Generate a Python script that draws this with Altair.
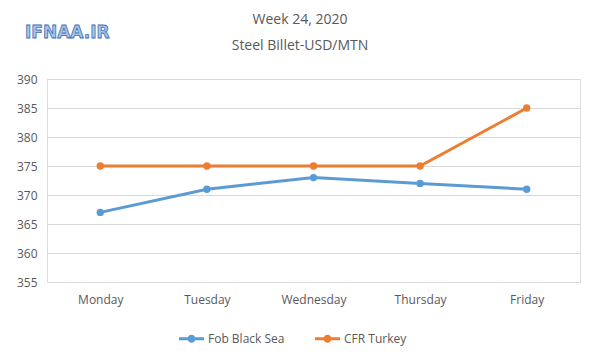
import altair as alt
import pandas as pd

days = ["Monday", "Tuesday", "Wednesday", "Thursday", "Friday"]
fob_black_sea = [367, 371, 373, 372, 371]
cfr_turkey = [375, 375, 375, 375, 385]
series_names = ["Fob Black Sea", "CFR Turkey"]
series_colors = ["#5B9BD5", "#ED7D31"]
y_ticks = [355, 360, 365, 370, 375, 380, 385, 390]
title_lines = ["Week 24, 2020", "Steel Billet-USD/MTN"]
logo_text = ["IFNAA.IR"]

rows = []
for name, vals in zip(series_names, [fob_black_sea, cfr_turkey]):
    for d, v in zip(days, vals):
        rows.append({"day": d, "value": v, "series": name})
df = pd.DataFrame(rows)

FONT = "Open Sans"
GRAY = "#595959"

x = alt.X("day:N", sort=days, title=None,
          scale=alt.Scale(type="point", padding=0.5),
          axis=alt.Axis(labelAngle=0, domain=False, ticks=False, grid=False,
                        labelPadding=12, labelColor=GRAY, labelFont=FONT, labelFontSize=12))
y = alt.Y("value:Q", title=None,
          scale=alt.Scale(domain=[355, 390], nice=False, zero=False),
          axis=alt.Axis(values=y_ticks, domain=False, ticks=False, gridColor="#D9D9D9",
                        labelPadding=10, labelColor=GRAY, labelFont=FONT, labelFontSize=12))
cscale = alt.Scale(domain=series_names, range=series_colors)
legend_symbol = ("M-1,-0.12L1,-0.12L1,0.12L-1,0.12Z "
                 "M-0.32,0A0.32,0.32 0 1,1 0.32,0A0.32,0.32 0 1,1 -0.32,0Z")
leg = alt.Legend(title=None, orient="none", direction="horizontal",
                 legendX=132, legendY=247,
                 symbolType=legend_symbol, symbolSize=625,
                 symbolOpacity=1, symbolStrokeWidth=0,
                 labelFont=FONT, labelFontSize=12, labelColor=GRAY,
                 columnPadding=30)
color_leg = alt.Color("series:N", sort=series_names, scale=cscale, legend=leg)

base = alt.Chart(df)
points = base.mark_point(filled=True, size=55, opacity=1).encode(x=x, y=y, color=color_leg)
lines = base.mark_line(strokeWidth=3).encode(x=x, y=y, color=color_leg)

logo = alt.Chart(pd.DataFrame({"t": logo_text})).mark_text(
    font="DejaVu Sans", fontSize=17, fontWeight="bold", fill="#A9C4E8", stroke="#3F6FB5",
    strokeWidth=0.8, align="left", baseline="middle"
).encode(text="t:N", x=alt.value(-22), y=alt.value(-46))

t1 = alt.Chart(pd.DataFrame({"t": [title_lines[0]]})).mark_text(
    font=FONT, fontSize=14, color=GRAY, align="center", baseline="middle"
).encode(text="t:N", x=alt.value(253), y=alt.value(-59))
t2 = alt.Chart(pd.DataFrame({"t": [title_lines[1]]})).mark_text(
    font=FONT, fontSize=14, color=GRAY, align="center", baseline="middle"
).encode(text="t:N", x=alt.value(253), y=alt.value(-33))

chart = alt.layer(points, lines, logo, t1, t2).properties(
    width=533, height=203,
    padding={"left": 39, "top": 71, "right": 12, "bottom": 70},
    autosize=alt.AutoSizeParams(type="none"),
).configure_view(stroke=None).configure(background="white")

chart.save("out.html", embed_options={"renderer": "svg", "actions": False})
